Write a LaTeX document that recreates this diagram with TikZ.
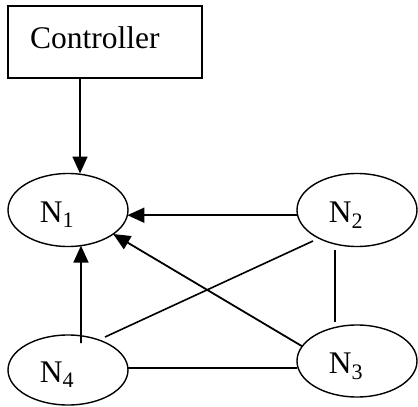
\documentclass[tikz,border=0pt]{standalone}
\usepackage{fontspec}
\setmainfont{Liberation Serif}
\usetikzlibrary{arrows.meta,shapes.geometric}
\begin{document}
\begin{tikzpicture}[x=1pt,y=-1pt,
  every node/.style={font=\fontsize{31.5}{36}\selectfont},
  elli/.style={draw,ellipse,line width=1.4pt,minimum width=120pt,minimum height=73pt,inner sep=0pt,outer sep=0pt},
  boxst/.style={draw,rectangle,line width=1.4pt,minimum width=194pt,minimum height=72pt,inner sep=0pt,outer sep=0pt},
  txt/.style={anchor=base,inner sep=0pt},
  conn/.style={line width=1.6pt},
  arr/.style={line width=1.8pt,-{Triangle[length=17pt,width=15pt]}}]
\useasboundingbox (0,0) rectangle (418,407);
\node[boxst] (ctrl) at (105,42) {};
\node[anchor=base west,inner sep=0pt] at ([shift={(22,6)}]ctrl.west) {Controller};
\node[elli] (n1) at (68,210) {};
\node[elli] (n2) at (357,210) {};
\node[elli,minimum height=72pt] (n3) at (357,361) {};
\node[elli,minimum height=70pt] (n4) at (68,370) {};
\node[txt] at ([shift={(-11,12)}]n1.center) {N\textsubscript{1}};
\node[txt] at ([shift={(-11,12)}]n2.center) {N\textsubscript{2}};
\node[txt] at ([shift={(-11,12)}]n3.center) {N\textsubscript{3}};
\node[txt] at ([shift={(-11,12)}]n4.center) {N\textsubscript{4}};
\draw[arr] (ctrl.south -| 80,0) -- (n1.north -| 80,0);
\draw[arr] (n2.185) -- (n1.-5);
\draw[arr] (n3.165) -- (n1.-28);
\draw[arr] ([shift={(13,8)}]n4.north) -- (n1.-70);
\draw[conn] ([shift={(37,-33)}]n4.center) -- ([shift={(-44,31)}]n2.center);
\draw[conn] ([shift={(-22,40)}]n2.center) -- ([shift={(-22,-39)}]n3.center);
\draw[conn] ([shift={(60,-2)}]n4.center) -- ([shift={(-60,7)}]n3.center);
\end{tikzpicture}
\end{document}
